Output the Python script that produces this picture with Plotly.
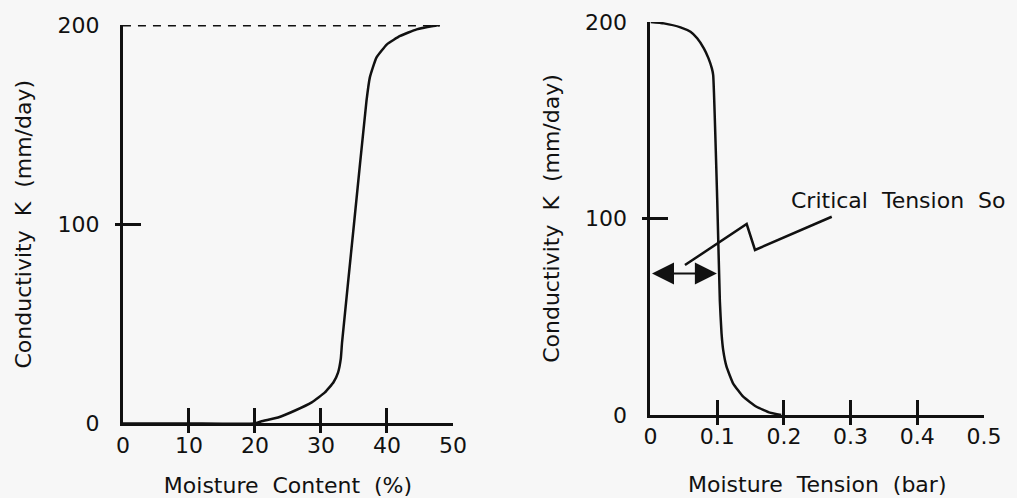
import plotly.graph_objects as go

# ---------------- data ----------------
# Left: conductivity vs moisture content
mc_pct = [0, 10, 20, 20.9, 23.5, 26, 28.6, 30.6, 31.9, 32.6, 33, 33.2, 35, 36.9, 37.4, 38.4,
          40, 42, 44.5, 47, 48]
k_mc = [0, 0, 0, 1, 3, 6.4, 10.6, 15.6, 20.7, 25.7, 32.4, 40.8, 100, 162, 173.6, 183.6,
        190.3, 194.5, 197.8, 199.5, 200]
ko_value = 200
ko_line_x = [0, 48]

# Right: conductivity vs moisture tension
tension_bar = [0, 0.02, 0.045, 0.06, 0.07, 0.08, 0.087, 0.092, 0.094, 0.1, 0.104, 0.1065,
               0.109, 0.114, 0.124, 0.139, 0.159, 0.179, 0.196]
k_tension = [200, 199.3, 197.3, 195, 191.7, 186.6, 181.5, 176.4, 173, 110, 58, 41.6,
             33, 24.6, 16, 9.3, 4.2, 1.2, 0]
critical_arrow_x = [0, 0.0995]
critical_arrow_k = 72
leader_x = [0.0517, 0.1442, 0.1567, 0.2717]
leader_k = [76.3, 97.2, 84, 100.9]
critical_label_pos = (0.208, 109)

x1_ticks = [0, 10, 20, 30, 40, 50]
x2_ticks = [0, 0.1, 0.2, 0.3, 0.4, 0.5]
x2_ticktext = ["0", "0.1", "0.2", "0.3", "0.4", "0.5"]
y_ticks = [0, 100, 200]

FONT = "DejaVu Sans"
INK = "#111111"
BG = "#f7f7f7"

fig = go.Figure()

fig.add_trace(go.Scatter(x=ko_line_x, y=[ko_value, ko_value], mode="lines",
                         line=dict(color=INK, width=3, dash="8px,7px"),
                         xaxis="x", yaxis="y", showlegend=False, hoverinfo="skip"))
fig.add_trace(go.Scatter(x=mc_pct, y=k_mc, mode="lines", line_shape="spline",
                         line=dict(color=INK, width=2.5, smoothing=0.4),
                         xaxis="x", yaxis="y", showlegend=False))
fig.add_trace(go.Scatter(x=tension_bar, y=k_tension, mode="lines", line_shape="spline",
                         line=dict(color=INK, width=2.5, smoothing=0.4),
                         xaxis="x2", yaxis="y2", showlegend=False))
fig.add_trace(go.Scatter(x=leader_x, y=leader_k, mode="lines",
                         line=dict(color=INK, width=2.5),
                         xaxis="x2", yaxis="y2", showlegend=False, hoverinfo="skip"))

eps = 1e-6


def xaxis_cfg(domain, rng, ticks, ticktext, title, eps_scale, standoff):
    return dict(domain=domain, range=rng, showgrid=False, zeroline=False, automargin=False,
                showline=True, linewidth=3, linecolor=INK,
                tickmode="array", tickvals=ticks, ticktext=ticktext,
                ticks="inside", ticklen=15, tickwidth=2.5, tickcolor=INK,
                minor=dict(tickmode="array", tickvals=[t + eps * eps_scale for t in ticks],
                           ticks="outside", ticklen=7, tickwidth=2.5, tickcolor=INK),
                tickfont=dict(family=FONT, size=22, color=INK),
                ticklabelstandoff=0,
                title=dict(text=title, font=dict(family=FONT, size=22, color=INK),
                           standoff=standoff),
                fixedrange=True)


def yaxis_cfg(domain, anchor):
    return dict(domain=domain, range=[0, 200], anchor=anchor, showgrid=False, zeroline=False,
                automargin=False,
                showline=True, linewidth=3, linecolor=INK,
                tickmode="array", tickvals=y_ticks,
                ticks="inside", ticklen=18, tickwidth=2.5, tickcolor=INK,
                minor=dict(tickmode="array", tickvals=[t + eps * 200 for t in y_ticks],
                           ticks="outside", ticklen=5, tickwidth=2.5, tickcolor=INK),
                tickfont=dict(family=FONT, size=22, color=INK),
                ticklabelstandoff=16,
                title=dict(text="Conductivity  K  (mm/day)",
                           font=dict(family=FONT, size=22, color=INK), standoff=20),
                fixedrange=True)


fig.update_layout(
    width=1017, height=498,
    margin=dict(l=0, r=0, t=0, b=0),
    paper_bgcolor=BG, plot_bgcolor=BG,
    font=dict(family=FONT, color=INK),
    xaxis=dict(anchor="y", **xaxis_cfg([0.1209, 0.4454], [0, 50], x1_ticks,
                                       [str(t) for t in x1_ticks],
                                       "Moisture  Content  (%)", 50, 22)),
    yaxis=yaxis_cfg([0.1496, 0.9498], "x"),
    xaxis2=dict(anchor="y2", **xaxis_cfg([0.6396, 0.9676], [0, 0.5], x2_ticks, x2_ticktext,
                                         "Moisture  Tension  (bar)", 0.5, 29)),
    yaxis2=yaxis_cfg([0.1667, 0.9558], "x2"),
    showlegend=False,
)

fig.add_annotation(x=51.2, y=ko_value, xref="x", yref="y", text="Ko", showarrow=False,
                   xanchor="left", yanchor="middle", font=dict(family=FONT, size=21, color=INK))
fig.add_annotation(x=critical_label_pos[0], y=critical_label_pos[1], xref="x2", yref="y2",
                   text="Critical  Tension  So", showarrow=False, xanchor="left", yanchor="middle",
                   font=dict(family=FONT, size=22, color=INK))
fig.add_annotation(x=critical_arrow_x[1], y=critical_arrow_k, ax=critical_arrow_x[0],
                   ay=critical_arrow_k, xref="x2", yref="y2", axref="x2", ayref="y2",
                   text="", showarrow=True, arrowhead=2, arrowside="end+start",
                   arrowsize=2.0, arrowwidth=2.2, arrowcolor=INK, standoff=0, startstandoff=0)

fig.write_html("out.html")
